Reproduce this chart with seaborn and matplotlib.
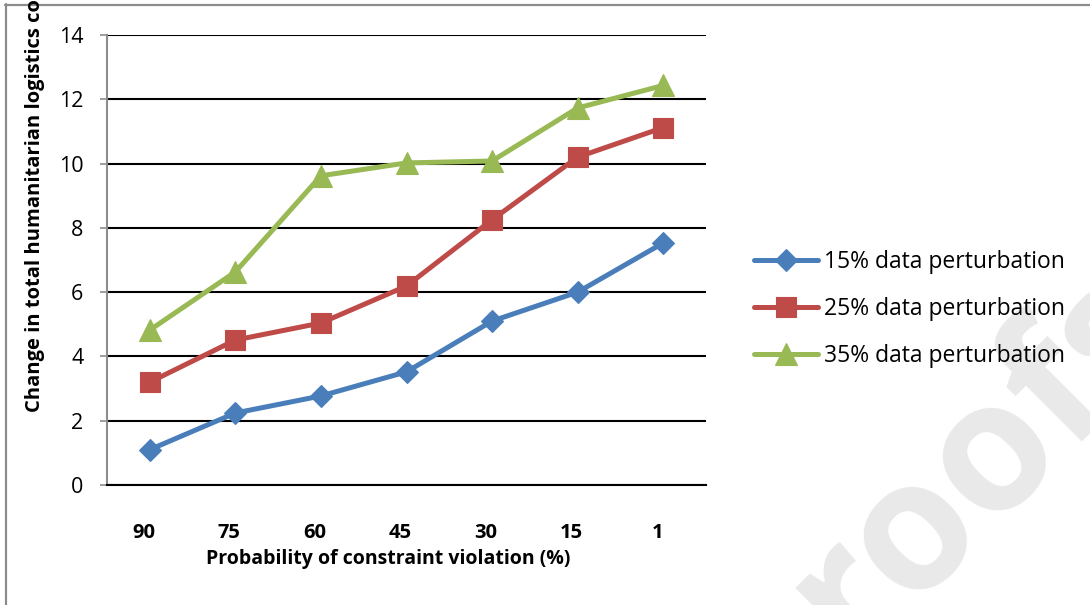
import matplotlib
matplotlib.use("Agg")
import matplotlib.pyplot as plt
import matplotlib.transforms as mtransforms
from matplotlib.lines import Line2D
import seaborn as sns
import pandas as pd

# ---- data ----
categories = ["90", "75", "60", "45", "30", "15", "1"]
series_names = ["15% data perturbation", "25% data perturbation", "35% data perturbation"]
vals_15 = [1.10, 2.24, 2.77, 3.52, 5.10, 6.00, 7.53]
vals_25 = [3.20, 4.51, 5.04, 6.19, 8.25, 10.20, 11.12]
vals_35 = [4.82, 6.63, 9.62, 10.02, 10.08, 11.73, 12.43]
y_ticks = [0, 2, 4, 6, 8, 10, 12, 14]
x_label = "Probability of constraint violation (%)"
y_label = "Change in total humanitarian logistics cost (%)"

colors = ["#4A7EBB", "#BE4B48", "#98B954"]
markers = ["D", "s", "^"]
msizes = [11, 14, 15.5]

sns.set_theme(style="white")
plt.rcParams["font.family"] = ["Open Sans", "DejaVu Sans"]

W, H = 1090, 605
fig = plt.figure(figsize=(W / 100, H / 100), dpi=100)
fig.patch.set_facecolor("white")

def fx(px):
    return px / W

def fy(py):
    return 1 - py / H

# watermark
fig.text(fx(772), fy(738), "proofs", rotation=45, rotation_mode="anchor",
         ha="left", va="baseline", fontsize=130, fontweight="bold",
         color="#e9e9e9", zorder=-5)

# frame lines
fig.add_artist(Line2D([fx(6), fx(6)], [fy(4), 0], transform=fig.transFigure,
                      color="#8c8c8c", lw=1.6))
fig.add_artist(Line2D([fx(5), 1], [fy(5), fy(5)], transform=fig.transFigure,
                      color="#8c8c8c", lw=1.6))

ax = fig.add_axes([fx(107), fy(485), (706 - 107) / W, (485 - 35) / H])
ax.set_facecolor("none")

data_sets = [vals_15, vals_25, vals_35]
for name, vals, c, m, ms in zip(series_names, data_sets, colors, markers, msizes):
    df = pd.DataFrame({"cat": categories, "val": vals})
    sns.lineplot(data=df, x="cat", y="val", ax=ax, color=c, marker=m,
                 markersize=ms, lw=3.6, markeredgecolor=c, markeredgewidth=0.8,
                 sort=False, label=name, zorder=3)

ax.set_xlim(-0.5, len(categories) - 0.5)
ax.set_ylim(0, 14)
ax.set_yticks(y_ticks)
ax.set_yticklabels([str(t) for t in y_ticks])
ax.yaxis.grid(True, color="black", lw=1.5)
ax.set_axisbelow(True)

for s in ["top", "right"]:
    ax.spines[s].set_visible(False)
ax.spines["left"].set_color("#8c8c8c")
ax.spines["left"].set_linewidth(1.5)
ax.spines["bottom"].set_color("black")
ax.spines["bottom"].set_linewidth(1.5)

ax.tick_params(axis="y", which="major", left=True, length=5, width=1.2,
               color="#8c8c8c", pad=12, labelsize=15.5, labelcolor="black")
ax.tick_params(axis="x", which="major", bottom=False, pad=21, labelsize=14.5,
               labelcolor="black")
for lab in ax.get_xticklabels():
    lab.set_fontweight("bold")
    lab.set_transform(lab.get_transform() +
                      mtransforms.ScaledTranslation(-6 / 100, 0, fig.dpi_scale_trans))

ax.set_xlabel(x_label, fontsize=14, fontweight="bold", color="black")
ax.xaxis.set_label_coords((388 - 107) / 599, (485 - 559) / 450)
ax.xaxis.label.set_va("center")
ax.set_ylabel("")

fig.text(fx(35), fy(412), y_label, rotation=90, ha="center", va="bottom",
         fontsize=14.5, fontweight="bold", color="black")

leg = ax.legend(loc="center left", bbox_to_anchor=(fx(754), fy(309)),
                bbox_transform=fig.transFigure, frameon=False, fontsize=16.5,
                handlelength=2.8, handletextpad=0.26, labelspacing=1.02,
                borderpad=0, borderaxespad=0)
for t in leg.get_texts():
    t.set_color("black")

fig.savefig("out.png", dpi=100)
